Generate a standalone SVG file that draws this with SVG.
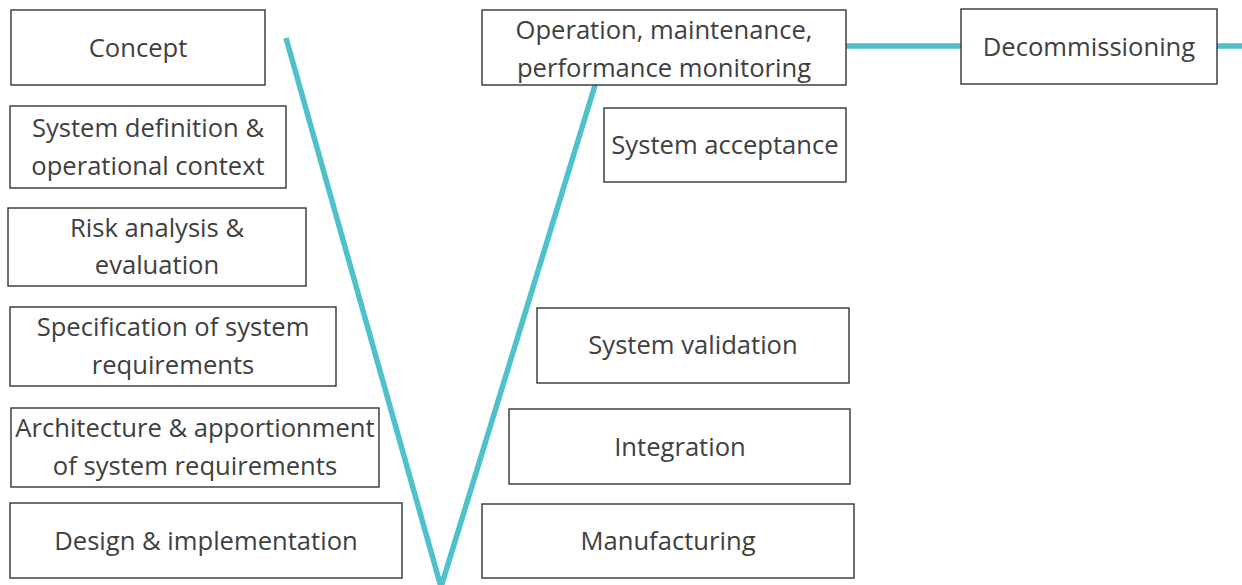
<svg xmlns="http://www.w3.org/2000/svg" width="1242" height="585" viewBox="0 0 1242 585">
  <style>
    .box { fill: #ffffff; stroke: #333333; stroke-width: 1.4; }
    .lbl { font-family: "Open Sans", "Liberation Sans", sans-serif; font-size: 25.6px; fill: #404040; text-anchor: middle; }
    .vline { fill: none; stroke: #4FC1CC; stroke-width: 5.5; }
  </style>
  <rect width="1242" height="585" fill="#ffffff"/>

  <!-- V-model spine and life-cycle continuation -->
  <g id="connectors">
    <polyline class="vline" points="286,38 441,587 596,82"/>
    <line class="vline" x1="846" y1="46" x2="961" y2="46"/>
    <line class="vline" x1="1217" y1="46" x2="1242" y2="46"/>
  </g>

  <!-- Left branch: definition and decomposition -->
  <g id="concept">
    <rect class="box" x="11" y="10" width="254" height="75"/>
    <text class="lbl" x="138" y="57">Concept</text>
  </g>
  <g id="system-definition">
    <rect class="box" x="10" y="106" width="276" height="82"/>
    <text class="lbl" x="148" y="137">System definition &amp;</text>
    <text class="lbl" x="148" y="175">operational context</text>
  </g>
  <g id="risk-analysis">
    <rect class="box" x="8" y="208" width="298" height="78"/>
    <text class="lbl" x="157" y="237">Risk analysis &amp;</text>
    <text class="lbl" x="157" y="274">evaluation</text>
  </g>
  <g id="specification">
    <rect class="box" x="10" y="307" width="326" height="79"/>
    <text class="lbl" x="173" y="336">Specification of system</text>
    <text class="lbl" x="173" y="374">requirements</text>
  </g>
  <g id="architecture">
    <rect class="box" x="11" y="408" width="368" height="79"/>
    <text class="lbl" x="195" y="437">Architecture &amp; apportionment</text>
    <text class="lbl" x="195" y="475">of system requirements</text>
  </g>
  <g id="design">
    <rect class="box" x="10" y="503" width="392" height="75"/>
    <text class="lbl" x="206" y="550">Design &amp; implementation</text>
  </g>

  <!-- Right branch: integration and verification -->
  <g id="manufacturing">
    <rect class="box" x="482" y="504" width="372" height="74"/>
    <text class="lbl" x="668" y="550">Manufacturing</text>
  </g>
  <g id="integration">
    <rect class="box" x="509" y="409" width="341" height="75"/>
    <text class="lbl" x="680" y="456">Integration</text>
  </g>
  <g id="system-validation">
    <rect class="box" x="537" y="308" width="312" height="75"/>
    <text class="lbl" x="693" y="354">System validation</text>
  </g>
  <g id="system-acceptance">
    <rect class="box" x="604" y="108" width="242" height="74"/>
    <text class="lbl" x="725" y="154">System acceptance</text>
  </g>
  <g id="operation">
    <rect class="box" x="482" y="10" width="364" height="75"/>
    <text class="lbl" x="664" y="39">Operation, maintenance,</text>
    <text class="lbl" x="664" y="77">performance monitoring</text>
  </g>
  <g id="decommissioning">
    <rect class="box" x="961" y="9" width="256" height="75"/>
    <text class="lbl" x="1089" y="56">Decommissioning</text>
  </g>
</svg>
